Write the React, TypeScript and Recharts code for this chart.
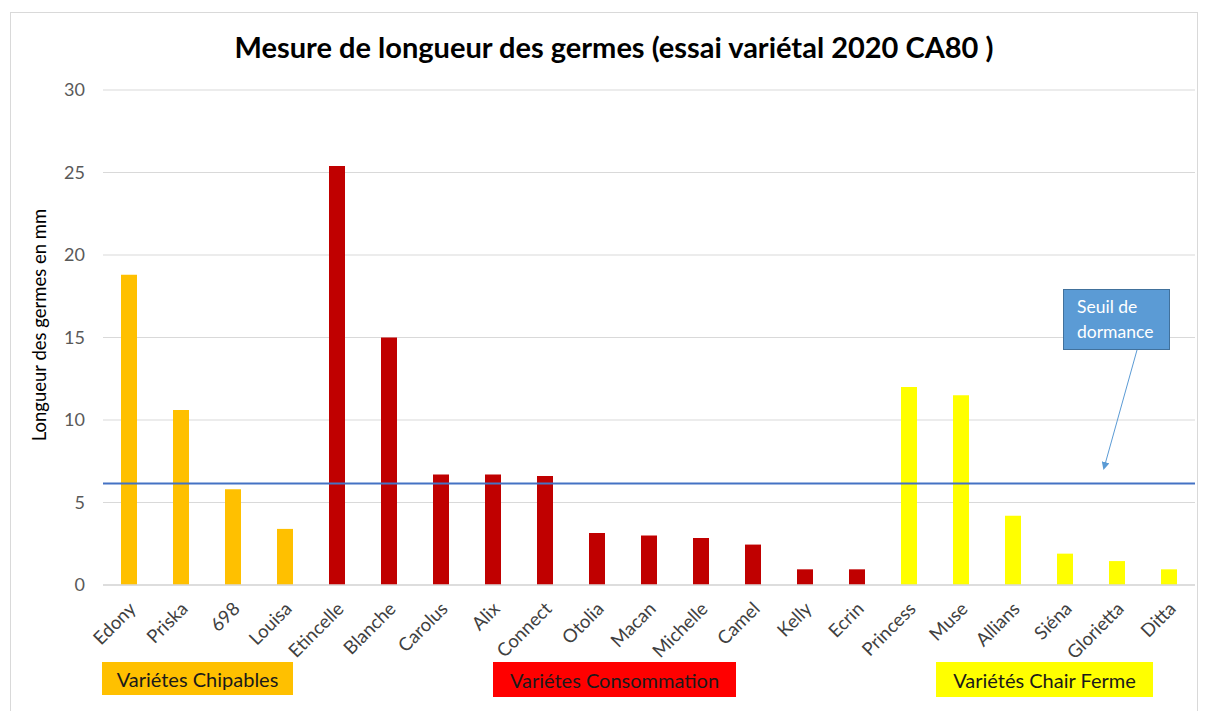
import React from 'react';
import { BarChart, Bar, XAxis, YAxis, CartesianGrid, Cell, ReferenceLine } from 'recharts';

const categories = ['Edony','Priska','698','Louisa','Etincelle','Blanche','Carolus','Alix','Connect','Otolia','Macan','Michelle','Camel','Kelly','Ecrin','Princess','Muse','Allians','Siéna','Glorietta','Ditta'];
const values = [18.8,10.6,5.8,3.4,25.4,15.0,6.7,6.7,6.6,3.15,3.0,2.85,2.45,0.95,0.95,12.0,11.5,4.2,1.9,1.45,0.95];
const groups = ['chip','chip','chip','chip','conso','conso','conso','conso','conso','conso','conso','conso','conso','conso','conso','ferme','ferme','ferme','ferme','ferme','ferme'];
const yTicks = [0,5,10,15,20,25,30];
const seuil = 6.15;
const groupLabels = { chip: 'Variétes Chipables', conso: 'Variétes Consommation', ferme: 'Variétés Chair Ferme' };
const barColors: Record<string,string> = { chip: '#FFC000', conso: '#C00000', ferme: '#FFFF00' };

const data = categories.map((name, i) => ({ name, value: values[i], group: groups[i] }));

const FONT = 'Lato, "Open Sans", sans-serif';

const XTick = (props: any) => {
  const { x, y, payload } = props;
  return (
    <g transform={`translate(${x + 8},${y + 17})`}>
      <text x={0} y={0} textAnchor="end" transform="rotate(-45)" fontSize={18.5} fill="#404040" fontFamily={FONT}>
        {payload.value}
      </text>
    </g>
  );
};

const boxStyle = (left: number, top: number, w: number, h: number, bg: string): React.CSSProperties => ({
  position: 'absolute', left, top, width: w, height: h, background: bg,
  display: 'flex', alignItems: 'center', justifyContent: 'center',
  fontFamily: FONT, fontSize: 20, color: '#1a1a1a', boxSizing: 'border-box',
});

export default function App() {
  return (
    <div style={{ position: 'absolute', left: 0, top: 0, width: 1205, height: 711, background: '#fff', overflow: 'hidden' }}>
      <div style={{ position: 'absolute', left: 10, top: 12, width: 1188, height: 720, border: '1px solid #d9d9d9', boxSizing: 'border-box' }} />
      <div style={{ position: 'absolute', left: 0, top: 29, width: 1228, textAlign: 'center', fontFamily: FONT, fontWeight: 700, fontSize: 29, lineHeight: '35px', color: '#000' }}>
        Mesure de longueur des germes (essai variétal 2020 CA80 )
      </div>
      <div style={{ position: 'absolute', left: 0, top: 0 }}>
        <BarChart width={1205} height={711} data={data} margin={{ top: 90, right: 10, bottom: 0, left: 0 }} barSize={16}>
          <CartesianGrid horizontal vertical={false} stroke="#d9d9d9" strokeWidth={1.2} />
          <XAxis dataKey="name" interval={0} height={126} axisLine={{ stroke: '#d9d9d9', strokeWidth: 1.5 }} tickLine={false} tick={<XTick />} />
          <YAxis width={103} domain={[0, 30]} ticks={yTicks} axisLine={false} tickLine={false} tickMargin={12}
            tick={{ fontSize: 18, fill: '#595959', fontFamily: FONT }} />
          <Bar dataKey="value" isAnimationActive={false}>
            {data.map((d, i) => <Cell key={i} fill={barColors[d.group]} />)}
          </Bar>
          <ReferenceLine y={seuil} stroke="#4472C4" strokeWidth={2} />
        </BarChart>
      </div>
      <div style={boxStyle(102, 662, 191, 33, '#FFC000')}>{groupLabels.chip}</div>
      <div style={boxStyle(493, 662, 243, 35, '#FF0000')}>{groupLabels.conso}</div>
      <div style={boxStyle(936, 662, 217, 35, '#FFFF00')}>{groupLabels.ferme}</div>
      <svg style={{ position: 'absolute', left: 0, top: 0 }} width={1205} height={711}>
        <defs>
          <marker id="arr" markerWidth="8" markerHeight="8" refX="6" refY="4" orient="auto" markerUnits="userSpaceOnUse">
            <path d="M0,0 L8,4 L0,8 Z" fill="#5B9BD5" />
          </marker>
        </defs>
        <text x={0} y={0} transform="translate(46,325) rotate(-90)" textAnchor="middle" fontSize={18.5} fill="#000" fontFamily={FONT}>
          Longueur des germes en mm
        </text>
        <line x1={1137} y1={350} x2={1104} y2={468} stroke="#5B9BD5" strokeWidth={1} markerEnd="url(#arr)" />
      </svg>
      <div style={{ position: 'absolute', left: 1063, top: 289, width: 107, height: 61, background: '#5B9BD5', border: '1px solid #41719C', boxSizing: 'border-box', padding: '4px 0 0 13px', fontFamily: FONT, fontSize: 17.5, lineHeight: '25px', color: '#fff' }}>
        Seuil de<br />dormance
      </div>
    </div>
  );
}
